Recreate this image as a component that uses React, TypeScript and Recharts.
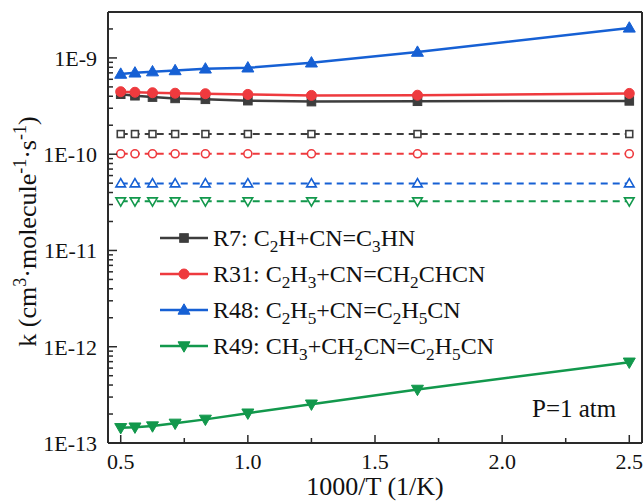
import React from 'react';
import { LineChart, Line, XAxis, YAxis, Legend } from 'recharts';

const FONT = "'Liberation Serif', 'Times New Roman', serif";

// 1000/T (1/K)
const invT = [0.5, 0.556, 0.625, 0.714, 0.833, 1.0, 1.25, 1.667, 2.5];

// solid series (P = 1 atm)
const r7 = [4.2e-10, 4.05e-10, 3.92e-10, 3.8e-10, 3.72e-10, 3.6e-10, 3.52e-10, 3.55e-10, 3.58e-10];
const r31 = [4.46e-10, 4.4e-10, 4.35e-10, 4.3e-10, 4.25e-10, 4.18e-10, 4.08e-10, 4.1e-10, 4.28e-10];
const r48 = [6.8e-10, 7.0e-10, 7.2e-10, 7.4e-10, 7.7e-10, 7.9e-10, 8.9e-10, 1.15e-9, 2.05e-9];
const r49 = [1.44e-13, 1.46e-13, 1.5e-13, 1.6e-13, 1.76e-13, 2.04e-13, 2.53e-13, 3.6e-13, 6.9e-13];

// dashed (hollow marker) series
const r7Ref = [1.62e-10, 1.62e-10, 1.62e-10, 1.62e-10, 1.62e-10, 1.62e-10, 1.62e-10, 1.62e-10, 1.62e-10];
const r31Ref = [1.01e-10, 1.01e-10, 1.01e-10, 1.01e-10, 1.01e-10, 1.01e-10, 1.01e-10, 1.01e-10, 1.01e-10];
const r48Ref = [4.96e-11, 4.96e-11, 4.96e-11, 4.96e-11, 4.96e-11, 4.96e-11, 4.96e-11, 4.96e-11, 4.96e-11];
const r49Ref = [3.25e-11, 3.25e-11, 3.25e-11, 3.25e-11, 3.25e-11, 3.25e-11, 3.25e-11, 3.25e-11, 3.25e-11];

const legendLabels = [
  'R7: C_2H+CN=C_3HN',
  'R31: C_2H_3+CN=CH_2CHCN',
  'R48: C_2H_5+CN=C_2H_5CN',
  'R49: CH_3+CH_2CN=C_2H_5CN',
];

const xTicksMajor = [0.5, 1.0, 1.5, 2.0, 2.5];
const xTicksMinor = [0.75, 1.25, 1.75, 2.25];
const yTicksMajor = [1e-13, 1e-12, 1e-11, 1e-10, 1e-9];
const yTicksMinor = [
  2e-13, 3e-13, 4e-13, 5e-13, 6e-13, 7e-13, 8e-13, 9e-13,
  2e-12, 3e-12, 4e-12, 5e-12, 6e-12, 7e-12, 8e-12, 9e-12,
  2e-11, 3e-11, 4e-11, 5e-11, 6e-11, 7e-11, 8e-11, 9e-11,
  2e-10, 3e-10, 4e-10, 5e-10, 6e-10, 7e-10, 8e-10, 9e-10,
  2e-9,
];

const X_DOMAIN = [0.45, 2.55];
const Y_DOMAIN = [1e-13, 3e-9];

const GRAY = '#3d3d3d';
const RED = '#ee3a3e';
const BLUE = '#1660d4';
const GREEN = '#12984c';
const AXIS = '#2a2a2a';

const data = invT.map((x, i) => ({
  x,
  r7: r7[i], r31: r31[i], r48: r48[i], r49: r49[i],
  r7Ref: r7Ref[i], r31Ref: r31Ref[i], r48Ref: r48Ref[i], r49Ref: r49Ref[i],
}));

type Shape = 'square' | 'circle' | 'up' | 'down';

const solid = [
  { key: 'r7', color: GRAY, shape: 'square' as Shape, label: legendLabels[0] },
  { key: 'r31', color: RED, shape: 'circle' as Shape, label: legendLabels[1] },
  { key: 'r48', color: BLUE, shape: 'up' as Shape, label: legendLabels[2] },
  { key: 'r49', color: GREEN, shape: 'down' as Shape, label: legendLabels[3] },
];
const dashed = [
  { key: 'r7Ref', color: GRAY, shape: 'square' as Shape },
  { key: 'r31Ref', color: RED, shape: 'circle' as Shape },
  { key: 'r48Ref', color: BLUE, shape: 'up' as Shape },
  { key: 'r49Ref', color: GREEN, shape: 'down' as Shape },
];

function marker(shape: Shape, cx: number, cy: number, color: string, filled: boolean, key?: any) {
  const fill = filled ? color : '#fff';
  const sw = filled ? 1 : 1.6;
  const s = filled ? 1 : 0.8;
  if (shape === 'square') {
    const h = 4.3 * s;
    return <rect key={key} x={cx - h} y={cy - h} width={2 * h} height={2 * h} fill={fill} stroke={color} strokeWidth={sw} />;
  }
  if (shape === 'circle') {
    return <circle key={key} cx={cx} cy={cy} r={filled ? 5 : 4} fill={fill} stroke={color} strokeWidth={sw} />;
  }
  const w = 6 * s;
  const hTop = 6.2 * s;
  const hBot = 4.2 * s;
  if (shape === 'up') {
    return <polygon key={key} points={`${cx},${cy - hTop} ${cx - w},${cy + hBot} ${cx + w},${cy + hBot}`} fill={fill} stroke={color} strokeWidth={sw} strokeLinejoin="miter" />;
  }
  return <polygon key={key} points={`${cx},${cy + hTop} ${cx - w},${cy - hBot} ${cx + w},${cy - hBot}`} fill={fill} stroke={color} strokeWidth={sw} strokeLinejoin="miter" />;
}

function makeDot(shape: Shape, color: string, filled: boolean) {
  return (props: any) => {
    const { cx, cy, index } = props;
    if (cx == null || cy == null) return <g key={index} />;
    return marker(shape, cx, cy, color, filled, index);
  };
}

function formula(text: string) {
  const parts = text.split(/(_\d)/).filter(Boolean);
  return parts.map((p, i) =>
    p.startsWith('_') ? (
      <span key={i} style={{ fontSize: '0.72em', position: 'relative', top: '0.32em' }}>{p.slice(1)}</span>
    ) : (
      <span key={i}>{p}</span>
    )
  );
}

const LegendContent = () => (
  <div style={{ fontFamily: FONT, fontSize: 24, color: '#111' }}>
    {solid.map((s) => (
      <div key={s.key} style={{ display: 'flex', alignItems: 'center', height: 36 }}>
        <svg width={48} height={20} style={{ display: 'block' }}>
          <line x1={0} x2={48} y1={10} y2={10} stroke={s.color} strokeWidth={2.5} />
          {marker(s.shape, 24, 10, s.color, true)}
        </svg>
        <span style={{ marginLeft: 5, whiteSpace: 'nowrap', lineHeight: 1 }}>{formula(s.label)}</span>
      </div>
    ))}
  </div>
);

const majorSetY = new Set(yTicksMajor);
const majorSetX = new Set(xTicksMajor);

const YTick = (props: any) => {
  const { x, y, payload } = props;
  const v = payload.value;
  const isMajor = majorSetY.has(v);
  return (
    <g>
      <line x1={x} x2={x + (isMajor ? 9 : 5)} y1={y} y2={y} stroke={AXIS} strokeWidth={1.5} />
      {isMajor && (
        <text x={x - 11} y={y} dy="0.36em" textAnchor="end" fontFamily={FONT} fontSize={22} fill="#111">
          {`1E${Math.round(Math.log10(v))}`}
        </text>
      )}
    </g>
  );
};

const XTick = (props: any) => {
  const { x, y, payload } = props;
  const v = payload.value;
  const isMajor = majorSetX.has(v);
  return (
    <g>
      <line x1={x} x2={x} y1={y} y2={y - (isMajor ? 8 : 5)} stroke={AXIS} strokeWidth={1.5} />
      {isMajor && (
        <text x={x} y={y + 26} textAnchor="middle" fontFamily={FONT} fontSize={22} fill="#111">
          {v.toFixed(1)}
        </text>
      )}
    </g>
  );
};

const YTitle = (props: any) => {
  const vb = props.viewBox || {};
  const cx = (vb.x || 0) + 27;
  const cy = (vb.y || 0) + (vb.height || 0) / 2 + 4;
  return (
    <text
      x={cx}
      y={cy}
      transform={`rotate(-90, ${cx}, ${cy})`}
      textAnchor="middle"
      dy="0.35em"
      fontFamily={FONT}
      fontSize={26}
      fill="#111"
    >
      <tspan>k (cm</tspan>
      <tspan dy={-10} fontSize={18}>3</tspan>
      <tspan dy={10}>·molecule</tspan>
      <tspan dy={-10} fontSize={18}>-1</tspan>
      <tspan dy={10}>·s</tspan>
      <tspan dy={-10} fontSize={18}>-1</tspan>
      <tspan dy={10}>)</tspan>
    </text>
  );
};

const XTitle = (props: any) => {
  const vb = props.viewBox || {};
  const cx = (vb.x || 0) + (vb.width || 0) / 2;
  const y = (vb.y || 0) + 52;
  return (
    <text x={cx} y={y} textAnchor="middle" fontFamily={FONT} fontSize={26} fill="#111">
      1000/T (1/K)
    </text>
  );
};

export default function App() {
  return (
    <div style={{ position: 'absolute', left: 0, top: 0, width: 644, height: 502, background: '#fff' }}>
      <LineChart width={644} height={502} data={data} margin={{ top: 12, right: 2, bottom: 0, left: 0 }}>
        <XAxis
          dataKey="x"
          type="number"
          domain={X_DOMAIN}
          allowDataOverflow
          ticks={[...xTicksMajor, ...xTicksMinor]}
          interval={0}
          tick={<XTick />}
          tickLine={false}
          tickSize={0}
          tickMargin={0}
          height={59}
          axisLine={{ stroke: AXIS, strokeWidth: 2 }}
          label={<XTitle />}
        />
        <XAxis
          xAxisId="top"
          orientation="top"
          mirror
          type="number"
          domain={X_DOMAIN}
          allowDataOverflow
          tick={false}
          tickLine={false}
          axisLine={{ stroke: AXIS, strokeWidth: 2 }}
        />
        <YAxis
          type="number"
          scale="log"
          domain={Y_DOMAIN}
          allowDataOverflow
          ticks={[...yTicksMajor, ...yTicksMinor]}
          interval={0}
          tick={<YTick />}
          tickLine={false}
          tickSize={0}
          tickMargin={0}
          width={108}
          axisLine={{ stroke: AXIS, strokeWidth: 2 }}
          label={<YTitle />}
        />
        <YAxis
          yAxisId="right"
          orientation="right"
          mirror
          type="number"
          scale="log"
          domain={Y_DOMAIN}
          allowDataOverflow
          tick={false}
          tickLine={false}
          axisLine={{ stroke: AXIS, strokeWidth: 2 }}
        />
        <Legend
          layout="vertical"
          align="center"
          verticalAlign="middle"
          content={<LegendContent />}
          wrapperStyle={{ left: 160, top: 220, width: 'auto', height: 'auto' }}
        />
        {dashed.map((s) => (
          <Line
            key={s.key}
            dataKey={s.key}
            type="linear"
            stroke={s.color}
            strokeWidth={2}
            strokeDasharray="7 5"
            dot={makeDot(s.shape, s.color, false)}
            activeDot={false}
            isAnimationActive={false}
            legendType="none"
          />
        ))}
        {solid.map((s) => (
          <Line
            key={s.key}
            dataKey={s.key}
            type="linear"
            stroke={s.color}
            strokeWidth={2.5}
            dot={makeDot(s.shape, s.color, true)}
            activeDot={false}
            isAnimationActive={false}
          />
        ))}
      </LineChart>
      <svg width={644} height={502} style={{ position: 'absolute', left: 0, top: 0, pointerEvents: 'none' }}>
        <text x={532} y={417} fontFamily={FONT} fontSize={25} fill="#111">P=1 atm</text>
      </svg>
    </div>
  );
}
